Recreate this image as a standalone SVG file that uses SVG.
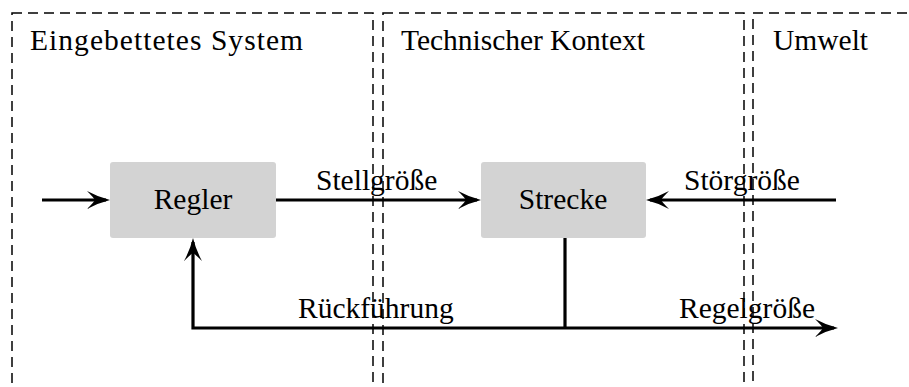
<svg xmlns="http://www.w3.org/2000/svg" width="909" height="387" viewBox="0 0 909 387">
<style>
.zone{fill:none;stroke:#000;stroke-width:1.5;stroke-dasharray:10 6}
.box{fill:#d3d3d3}
.t{font-family:"Liberation Serif","Times New Roman",serif;font-size:29.5px;fill:#000}
.c{text-anchor:middle}
.w{fill:none;stroke:#000;stroke-width:3.2}
</style>
<defs>
<marker id="ah" markerUnits="userSpaceOnUse" viewBox="-26 -12 32 24" markerWidth="32" markerHeight="24" refX="0" refY="0" orient="auto">
<path d="M4,0 Q-8,-3 -19,-9 Q-12,-2 -11,0 Q-12,2 -19,9 Q-8,3 4,0 Z" fill="#000"/>
</marker>
</defs>
<g id="zone-eingebettet">
<rect class="zone" x="12" y="13" width="361" height="400"/>
<text class="t" x="30" y="50" textLength="273" lengthAdjust="spacing">Eingebettetes System</text>
</g>
<g id="zone-technisch">
<rect class="zone" x="383" y="13" width="361" height="400"/>
<text class="t" x="401" y="50" textLength="244" lengthAdjust="spacing">Technischer Kontext</text>
</g>
<g id="zone-umwelt">
<rect class="zone" x="753" y="13" width="200" height="400"/>
<text class="t" x="773" y="50">Umwelt</text>
</g>
<g id="connectors">
<path class="w" d="M42,200 H106" marker-end="url(#ah)"/>
<path class="w" d="M276,200 H477" marker-end="url(#ah)"/>
<path class="w" d="M836,200 H650" marker-end="url(#ah)"/>
<path class="w" d="M565,238 V328"/>
<path class="w" d="M565,328 H834" marker-end="url(#ah)"/>
<path class="w" d="M565,328 H193 V242" marker-end="url(#ah)"/>
<text class="t" x="316" y="190">Stellgröße</text>
<text class="t" x="684" y="190">Störgröße</text>
<text class="t" x="298" y="318">Rückführung</text>
<text class="t" x="679" y="318">Regelgröße</text>
</g>
<g id="regler">
<rect class="box" x="110" y="162" width="166" height="76" rx="3"/>
<text class="t c" x="193" y="209">Regler</text>
</g>
<g id="strecke">
<rect class="box" x="481" y="162" width="165" height="76" rx="3"/>
<text class="t c" x="563" y="209">Strecke</text>
</g>
</svg>
